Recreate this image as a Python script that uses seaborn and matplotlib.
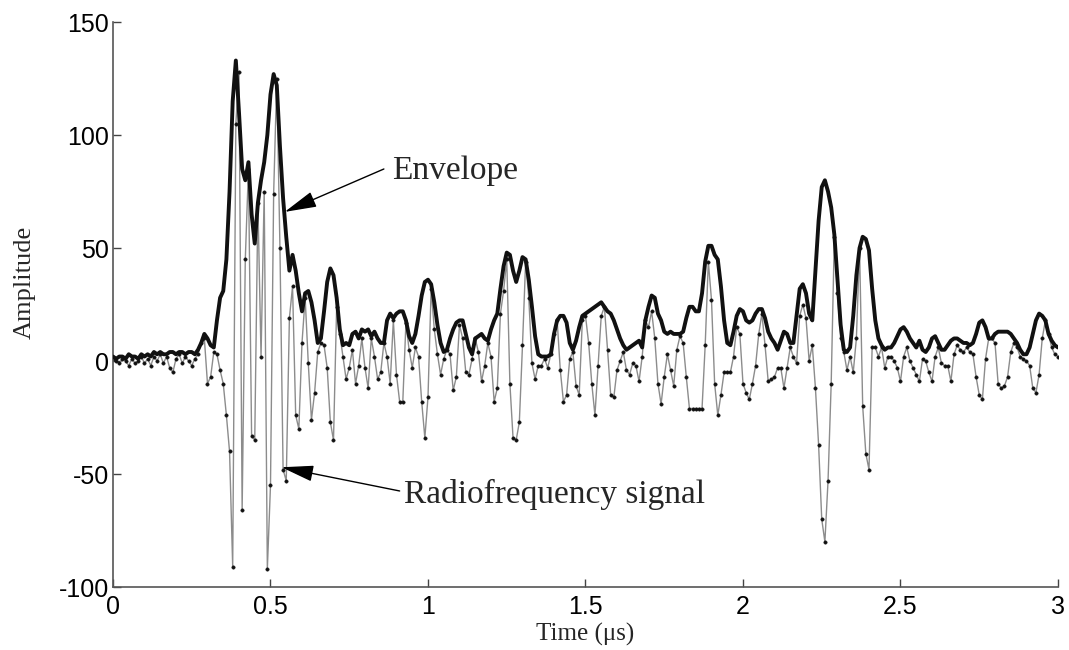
import numpy as np
import pandas as pd
import matplotlib
matplotlib.use("Agg")
import matplotlib.pyplot as plt
import seaborn as sns

# ---------------- data ----------------
sample_step_us = 0.01          # one sample every 0.01 microseconds, 0 .. 3 us

rf_signal = [
    1, 0, -1, 1, 0, -2, 1, -1, 0, 2,            # 0.0x
    -1, 1, -2, 2, 0, 3, -1, 2, -3, -5,          # 0.1x
    1, 3, -1, 2, 0, -2, 1, 3, 8, 10,            # 0.2x
    -10, -7, 4, 3, -4, -10, -24, -40, -91, 105, # 0.3x
    128, -66, 45, 85, -33, -35, 70, 2, 75, -92, # 0.4x
    -55, 74, 125, 50, -48, -53, 19, 33, -24, -30,  # 0.5x
    8, 28, -1, -26, -14, 4, 8, 7, -3, -27,      # 0.6x
    -35, 24, 12, 2, -8, -3, 5, -10, -2, 10,     # 0.7x
    -3, -12, 10, 2, -8, -5, 8, 2, -10, 18,      # 0.8x
    -6, -18, -18, 17, 5, -3, 6, 2, -18, -34,    # 0.9x
    -16, 32, 14, 3, -6, 1, 5, 3, -13, -7,       # 1.0x
    16, 10, -5, -6, 1, 10, 4, -9, -2, 8,        # 1.1x
    2, -18, -12, 21, 31, 45, -10, -34, -35, -27,  # 1.2x
    7, 44, 28, -1, -8, -2, -2, 1, -3, 3,        # 1.3x
    12, 18, -4, -18, -15, 1, 4, -11, -15, 18,   # 1.4x
    20, 8, -10, -24, -2, 20, 24, 5, -15, -16,   # 1.5x
    -4, 0, 4, -4, -6, -1, -2, -9, 2, 18,        # 1.6x
    15, 22, 10, -10, -19, -7, 3, -4, -11, 5,    # 1.7x
    11, 8, -7, -21, -21, -21, -21, -21, 7, 44,  # 1.8x
    27, -10, -24, -15, -5, -5, -5, 2, 15, 12,   # 1.9x
    -10, -14, -17, -10, -2, 12, 21, 7, -9, -8,  # 2.0x
    -7, -3, -3, -12, -3, 6, 2, -1, 20, 25,      # 2.1x
    19, 0, 7, -12, -37, -70, -80, -53, -10, 55, # 2.2x
    30, 10, 4, -4, 2, -5, 10, 50, -20, -41,     # 2.3x
    -48, 6, 6, 2, 6, -3, 2, 2, 0, -3,           # 2.4x
    -9, 2, 6, 0, -3, -6, -9, 1, 0, -5,          # 2.5x
    -9, 2, 6, -1, -2, -2, -9, 3, 7, 5,          # 2.6x
    4, 6, 4, 3, -7, -15, -17, 1, 10, 10,        # 2.7x
    8, -10, -12, -11, -7, 4, 8, 6, 2, 1,        # 2.8x
    0, -2, -12, -14, -6, 10, 18, 12, 6, 3,      # 2.9x
    2,                                          # 3.00
]

envelope = [
    2, 1, 2, 2, 1, 3, 2, 2, 1, 3,               # 0.0x
    2, 3, 2, 4, 3, 4, 3, 3, 4, 4,               # 0.1x
    3, 4, 4, 3, 4, 4, 3, 5, 8, 12,              # 0.2x
    10, 7, 6, 18, 28, 31, 45, 75, 115, 133,     # 0.3x
    110, 85, 80, 88, 65, 52, 70, 80, 88, 100,   # 0.4x
    118, 127, 122, 95, 72, 55, 40, 47, 40, 30,  # 0.5x
    22, 30, 31, 26, 18, 8, 10, 22, 35, 41,      # 0.6x
    38, 28, 14, 7, 8, 7, 12, 13, 10, 14,        # 0.7x
    13, 14, 11, 13, 10, 8, 8, 18, 21, 19,       # 0.8x
    21, 22, 22, 18, 11, 8, 12, 20, 29, 35,      # 0.9x
    36, 34, 26, 16, 8, 4, 5, 10, 14, 17,        # 1.0x
    18, 18, 12, 6, 3, 10, 11, 12, 10, 9,        # 1.1x
    14, 18, 21, 32, 42, 48, 47, 40, 35, 40,     # 1.2x
    46, 45, 36, 24, 11, 3, 2, 2, 2, 3,          # 1.3x
    12, 18, 20, 20, 17, 8, 5, 9, 15, 20,        # 1.4x
    21, 22, 23, 24, 25, 26, 24, 22, 21, 18,     # 1.5x
    14, 10, 7, 5, 6, 7, 8, 9, 6, 18,            # 1.6x
    24, 29, 28, 21, 18, 13, 12, 13, 12, 12,     # 1.7x
    12, 13, 19, 24, 24, 22, 22, 30, 44, 51,     # 1.8x
    51, 47, 45, 33, 18, 8, 7, 13, 20, 23,       # 1.9x
    22, 18, 17, 18, 21, 23, 23, 19, 13, 10,     # 2.0x
    8, 5, 9, 13, 12, 8, 8, 20, 32, 34,          # 2.1x
    30, 21, 18, 40, 62, 77, 80, 75, 68, 56,     # 2.2x
    36, 16, 5, 4, 6, 20, 38, 50, 55, 54,        # 2.3x
    49, 32, 18, 10, 7, 5, 6, 6, 8, 11,          # 2.4x
    14, 15, 13, 10, 8, 6, 9, 5, 4, 6,           # 2.5x
    10, 11, 8, 5, 5, 7, 9, 10, 10, 9,           # 2.6x
    8, 8, 7, 8, 12, 17, 18, 15, 10, 10,         # 2.7x
    12, 13, 13, 13, 13, 12, 10, 8, 5, 3,        # 2.8x
    3, 6, 12, 18, 21, 20, 18, 12, 9, 7,         # 2.9x
    6,                                          # 3.00
]

x_ticks = [0, 0.5, 1, 1.5, 2, 2.5, 3]
x_tick_labels = ["0", "0.5", "1", "1.5", "2", "2.5", "3"]
y_ticks = [-100, -50, 0, 50, 100, 150]
y_tick_labels = ["-100", "-50", "0", "50", "100", "150"]

x_label = "Time (\u03bcs)"
y_label = "Amplitude"
label_envelope = "Envelope"
label_rf = "Radiofrequency signal"

# ---------------- build table ----------------
time_us = np.round(np.arange(len(rf_signal)) * sample_step_us, 2)
df = pd.DataFrame({"time": time_us, "rf": rf_signal, "env": envelope})

# ---------------- plot ----------------
sns.set_style("ticks")
plt.rcParams["font.family"] = ["Liberation Sans", "DejaVu Sans"]

fig = plt.figure(figsize=(10.69, 6.5), dpi=100)
ax = fig.add_axes([0.1057, 0.0969, 0.8840, 0.8691])

sns.lineplot(data=df, x="time", y="rf", ax=ax, estimator=None,
             color="#8c8c8c", linewidth=1.0, marker="o", markersize=2.4,
             markerfacecolor="#111111", markeredgecolor="#111111",
             markeredgewidth=0.4, zorder=2)
sns.lineplot(data=df, x="time", y="env", ax=ax, estimator=None,
             color="#111111", linewidth=2.8, zorder=3)

ax.set_xlim(0, 3)
ax.set_ylim(-100, 150)
ax.set_xticks(x_ticks)
ax.set_xticklabels(x_tick_labels)
ax.set_yticks(y_ticks)
ax.set_yticklabels(y_tick_labels)
ax.tick_params(direction="in", length=6, width=1, colors="#444444",
               labelsize=18, labelcolor="black", pad=3)
ax.tick_params(axis="x", pad=6)
sns.despine(ax=ax)
for sp in ("left", "bottom"):
    ax.spines[sp].set_color("#555555")
    ax.spines[sp].set_linewidth(1.2)

serif = ["Liberation Serif", "DejaVu Serif"]
ax.set_xlabel(x_label, family=serif, fontsize=18)
ax.set_ylabel(y_label, family=serif, fontsize=19)
ax.xaxis.set_label_coords(0.5, -0.063)
ax.yaxis.set_label_coords(-0.082, 0.54)

arrow_kw = dict(arrowstyle="-|>,head_length=2.0,head_width=0.5",
                color="black", lw=1.0, shrinkA=0, shrinkB=0)
ax.annotate("", xy=(0.545, 66), xytext=(0.86, 85), arrowprops=arrow_kw)
ax.text(0.885, 84, label_envelope, family=serif, fontsize=24,
        va="center", ha="left")
ax.annotate("", xy=(0.535, -47), xytext=(0.91, -57.5), arrowprops=arrow_kw)
ax.text(0.925, -59, label_rf, family=serif, fontsize=24,
        va="center", ha="left")

fig.savefig("out.png", dpi=100)
